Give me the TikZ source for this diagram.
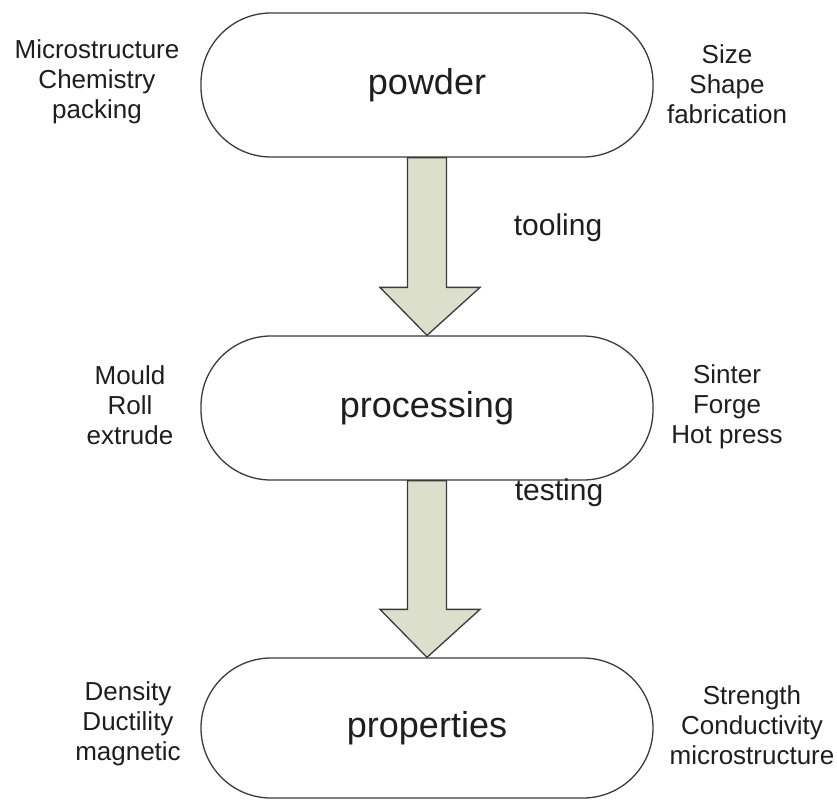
\documentclass[tikz,border=0pt]{standalone}
\usepackage{fontspec}
\setmainfont{Liberation Sans}
\usetikzlibrary{calc}
\definecolor{inkgray}{HTML}{1E1E1E}
\definecolor{edgegray}{HTML}{3A3A3A}
\definecolor{arrowfill}{HTML}{DCDFCB}
\begin{document}
\begin{tikzpicture}[x=1pt,y=1pt,
  stage/.style={draw=edgegray, line width=1.3pt, fill=white,
    minimum width=452pt, minimum height=144pt, rounded corners=70pt,
    text=inkgray, font=\fontsize{36}{42}\selectfont, inner sep=0pt},
  sidenote/.style={align=center, text=inkgray,
    font=\fontsize{26}{30}\selectfont, inner sep=0pt},
  flowlabel/.style={text=inkgray, font=\fontsize{30}{34}\selectfont, inner sep=0pt},
  bigarrow/.style={draw=edgegray, line width=1.3pt, fill=arrowfill, line join=miter}]
\useasboundingbox (0,0) rectangle (837,-801);

% stages
\node[stage] (powder)     at (427,-85)  {powder};
\node[stage] (processing) at (427,-408) {processing};
\node[stage, minimum height=140pt] (properties) at (427,-728) {properties};

% block arrows between stages
\foreach \a/\b in {powder/processing, processing/properties}{
  \draw[bigarrow]
    ($(\a.south)+(-19.5,0)$) -- ($(\b.north)+(-19.5,48)$)
    -- ($(\b.north)+(-47,48)$) -- (\b.north)
    -- ($(\b.north)+(53,48)$) -- ($(\b.north)+(19.5,48)$)
    -- ($(\a.south)+(19.5,0)$) -- cycle;
}

% arrow labels
\node[flowlabel] (tooling) at (558,-228) {tooling};
\node[flowlabel] (testing) at (559,-493) {testing};

% side notes
\node[sidenote] (powderL) at (97,-82)  {Microstructure\\Chemistry\\packing};
\node[sidenote] (powderR) at (727,-84) {Size\\Shape\\fabrication};
\node[sidenote] (procL)   at (130,-405) {Mould\\Roll\\extrude};
\node[sidenote] (procR)   at (727,-407) {Sinter\\Forge\\Hot press};
\node[sidenote] (propL)   at (128,-724) {Density\\Ductility\\magnetic};
\node[sidenote] (propR)   at (752,-725) {Strength\\Conductivity\\microstructure};
\end{tikzpicture}
\end{document}
